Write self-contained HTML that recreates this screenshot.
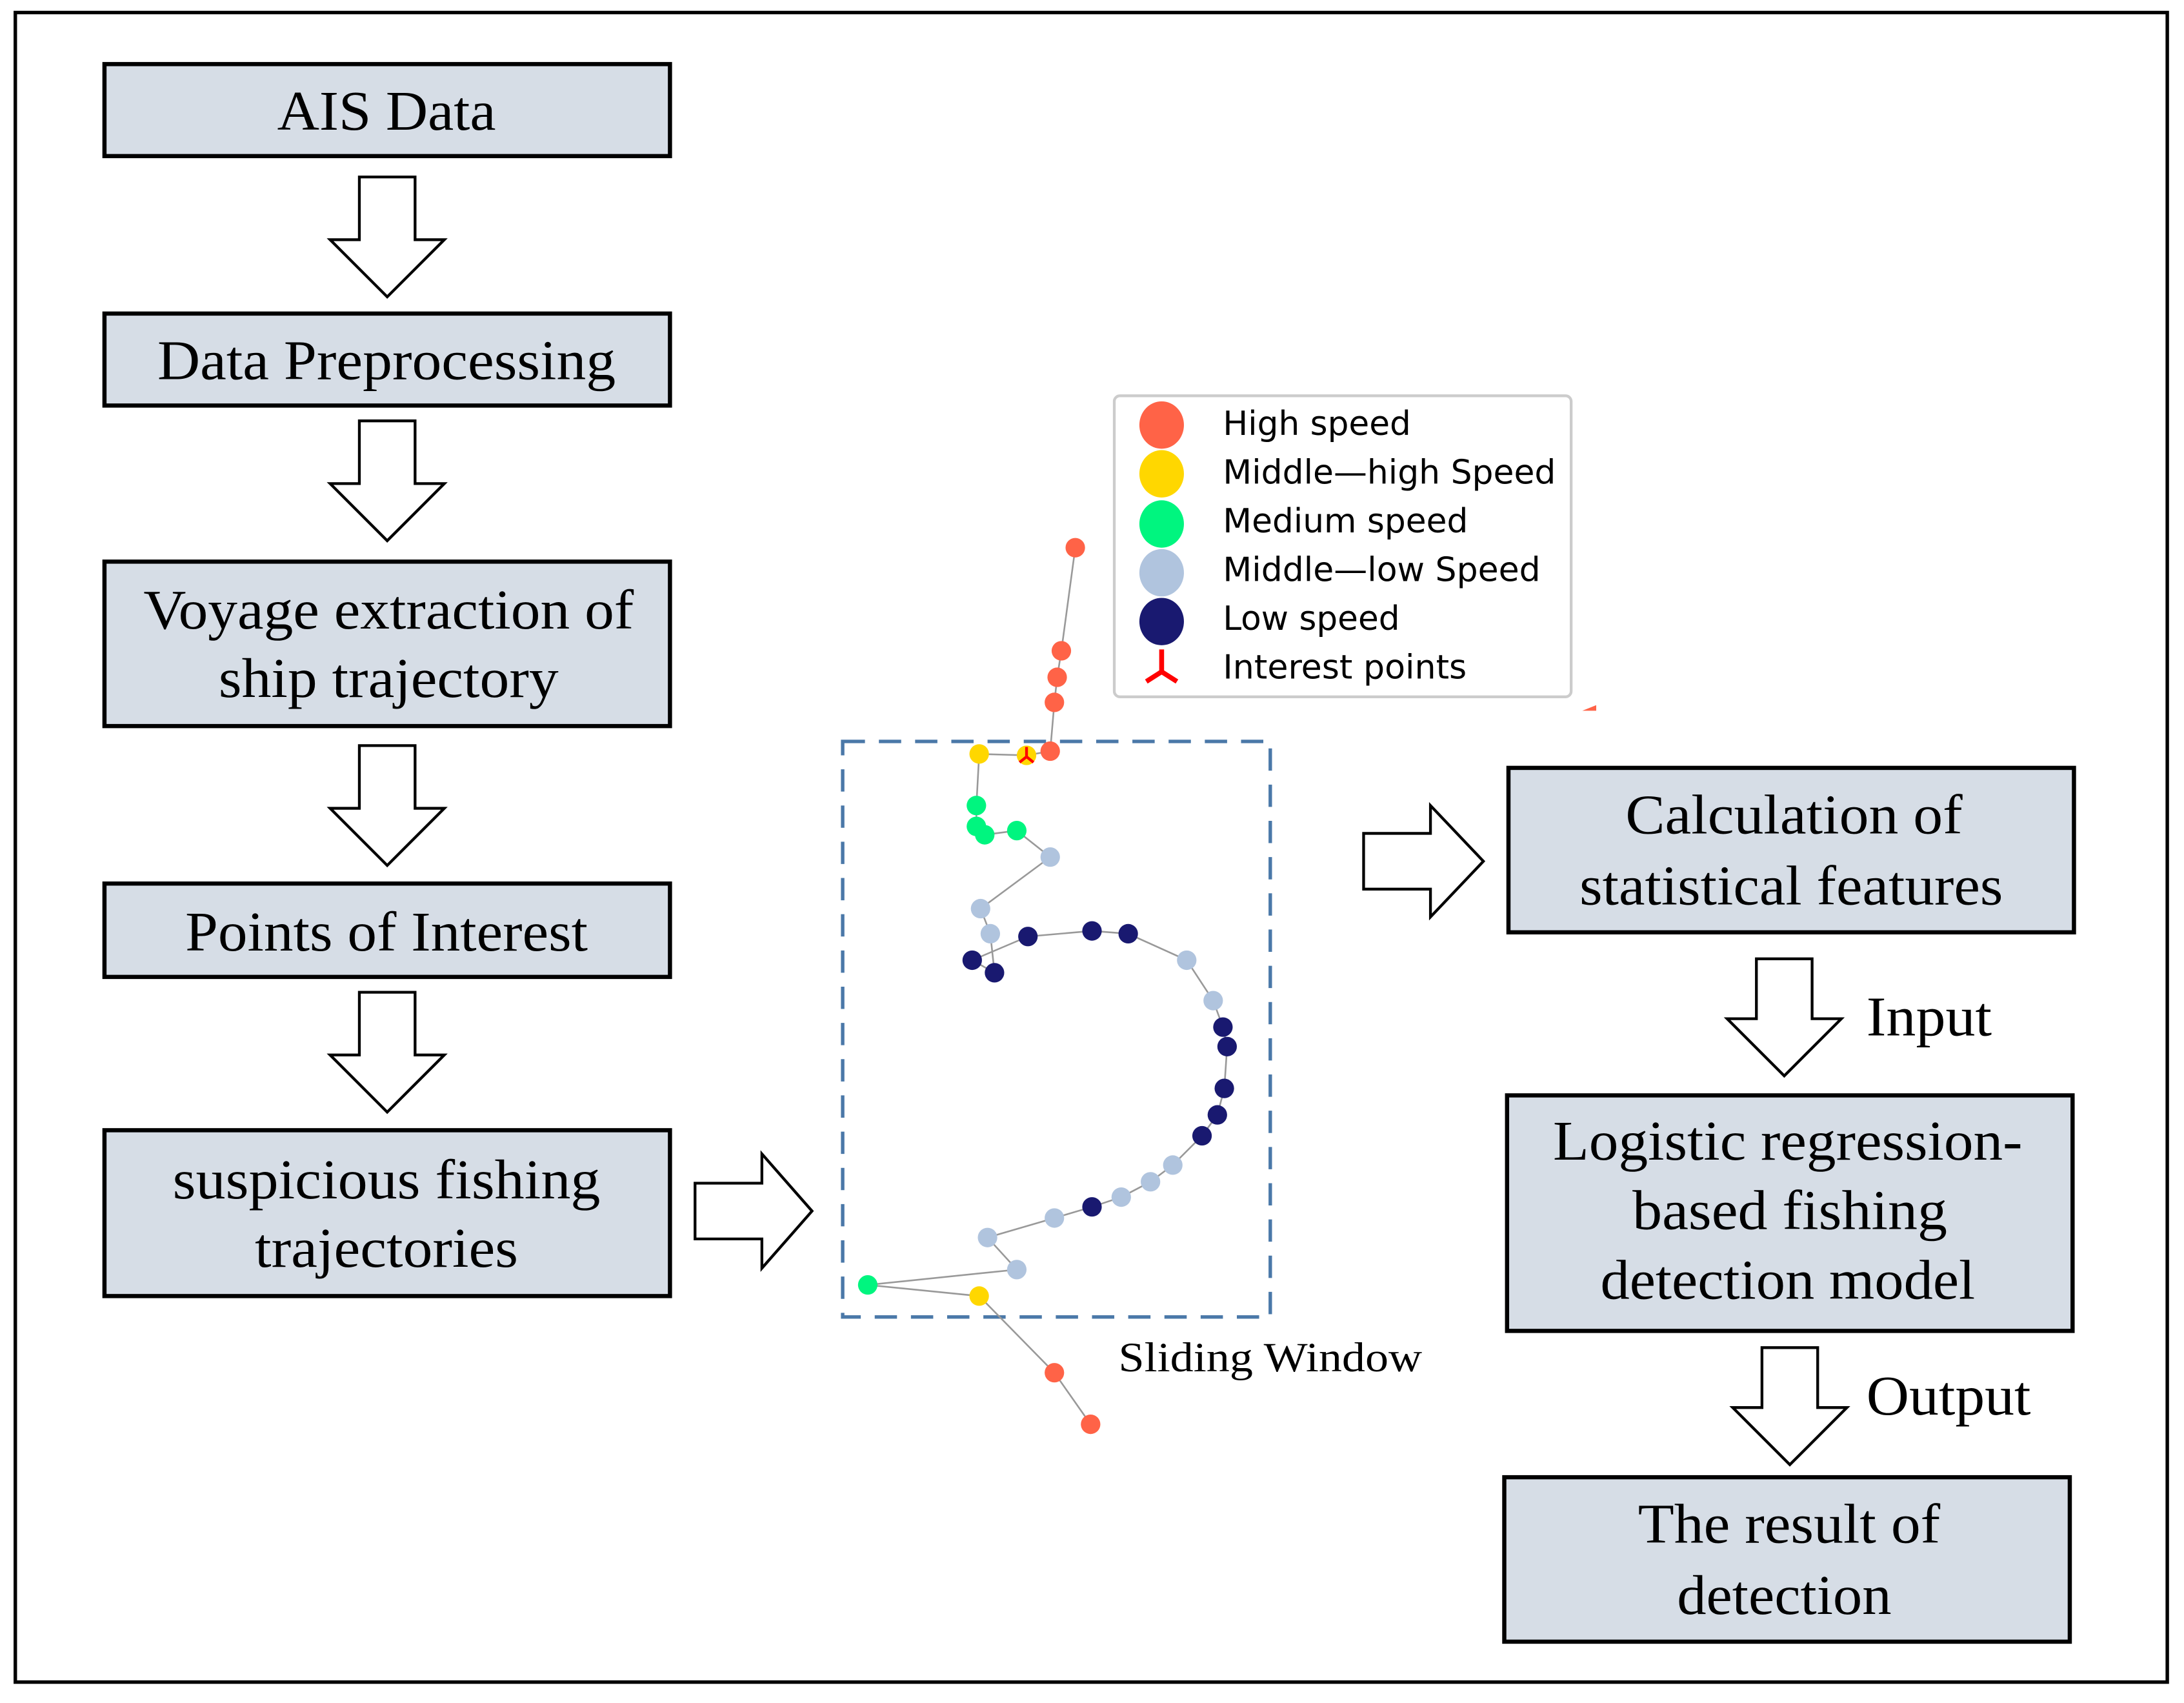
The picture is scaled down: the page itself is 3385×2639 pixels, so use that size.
<!DOCTYPE html>
<html><head><meta charset="utf-8"><style>
html,body{margin:0;padding:0;background:#fff}
svg{display:block}
.bx{fill:#d6dde6;stroke:#000;stroke-width:3}
.t{font-family:"Liberation Serif",serif;font-size:40px;fill:#000}
.ar{fill:#fff;stroke:#000;stroke-width:2}
.lg{font-family:"DejaVu Sans Condensed","DejaVu Sans",sans-serif;font-size:24px;fill:#000}
</style></head><body>
<svg width="3385" height="2639" viewBox="0 0 1568 1222" preserveAspectRatio="none" xmlns="http://www.w3.org/2000/svg">
<rect x="0" y="0" width="1568" height="1222" fill="#fff"/>
<rect x="11" y="9" width="1545" height="1198" fill="none" stroke="#000" stroke-width="2.5"/>

<rect class="bx" x="75" y="46" width="406" height="66"/>
<text class="t" x="199" y="93" textLength="157" lengthAdjust="spacingAndGlyphs">AIS Data</text>
<rect class="bx" x="75" y="225" width="406" height="66"/>
<text class="t" x="113" y="272" textLength="329" lengthAdjust="spacingAndGlyphs">Data Preprocessing</text>
<rect class="bx" x="75" y="403" width="406" height="118"/>
<text class="t" x="103" y="451" textLength="352" lengthAdjust="spacingAndGlyphs">Voyage extraction of</text>
<text class="t" x="157" y="500" textLength="244" lengthAdjust="spacingAndGlyphs">ship trajectory</text>
<rect class="bx" x="75" y="634" width="406" height="67"/>
<text class="t" x="133" y="682" textLength="289" lengthAdjust="spacingAndGlyphs">Points of Interest</text>
<rect class="bx" x="75" y="811" width="406" height="119"/>
<text class="t" x="124" y="860" textLength="307" lengthAdjust="spacingAndGlyphs">suspicious fishing</text>
<text class="t" x="183" y="909" textLength="189" lengthAdjust="spacingAndGlyphs">trajectories</text>

<rect class="bx" x="1083" y="551" width="406" height="118"/>
<text class="t" x="1167" y="598" textLength="242" lengthAdjust="spacingAndGlyphs">Calculation of</text>
<text class="t" x="1134" y="649" textLength="304" lengthAdjust="spacingAndGlyphs">statistical features</text>
<rect class="bx" x="1082" y="786" width="406" height="169"/>
<text class="t" x="1115" y="832" textLength="337" lengthAdjust="spacingAndGlyphs">Logistic regression-</text>
<text class="t" x="1172" y="882" textLength="226" lengthAdjust="spacingAndGlyphs">based fishing</text>
<text class="t" x="1149" y="932" textLength="269" lengthAdjust="spacingAndGlyphs">detection model</text>
<rect class="bx" x="1080" y="1060" width="406" height="118"/>
<text class="t" x="1176" y="1107" textLength="217" lengthAdjust="spacingAndGlyphs">The result of</text>
<text class="t" x="1204" y="1158" textLength="154" lengthAdjust="spacingAndGlyphs">detection</text>

<text class="t" x="1340" y="743" textLength="90" lengthAdjust="spacingAndGlyphs">Input</text>
<text class="t" x="1340" y="1015" textLength="118" lengthAdjust="spacingAndGlyphs">Output</text>

<!-- down arrows -->
<polygon class="ar" points="258,127 298,127 298,172 319,172 278,213 237,172 258,172"/>
<polygon class="ar" points="258,302 298,302 298,347 319,347 278,388 237,347 258,347"/>
<polygon class="ar" points="258,535 298,535 298,580 319,580 278,621 237,580 258,580"/>
<polygon class="ar" points="258,712 298,712 298,757 319,757 278,798 237,757 258,757"/>
<polygon class="ar" points="1261,688 1301,688 1301,731 1322,731 1281,772 1240,731 1261,731"/>
<polygon class="ar" points="1265,967 1305,967 1305,1010 1326,1010 1285,1051 1244,1010 1265,1010"/>
<!-- right arrows -->
<polygon class="ar" points="499,849 547,849 547,828 583,869 547,910 547,889 499,889"/>
<polygon class="ar" points="979,598 1027,598 1027,578 1065,618 1027,658 1027,638 979,638"/>

<!-- sliding window -->
<rect x="605" y="532" width="307" height="413" fill="none" stroke="#4a78a8" stroke-width="2.5" stroke-dasharray="16,10"/>
<text x="803" y="984" font-family="Liberation Serif,serif" font-size="30" textLength="218" lengthAdjust="spacingAndGlyphs">Sliding Window</text>

<!-- trajectory -->
<polyline fill="none" stroke="#999" stroke-width="1.2" points="772,393 762,467 759,486 757,504 754,539 737,542 703,541 701,578 701,593 707,599 730,596 754,615 704,652 711,670 714,698 698,689 738,672 784,668 810,670 852,689 871,718 878,737 881,751 879,781 874,800 863,815 842,836 826,848 805,859 784,866 757,874 709,888 730,911 623,922 703,930 757,985 783,1022"/>
<g fill="#ff6347">
<circle cx="772" cy="393" r="7"/><circle cx="762" cy="467" r="7"/><circle cx="759" cy="486" r="7"/><circle cx="757" cy="504" r="7"/><circle cx="754" cy="539" r="7"/><circle cx="757" cy="985" r="7"/><circle cx="783" cy="1022" r="7"/>
</g>
<g fill="#ffd700"><circle cx="703" cy="541" r="7"/><circle cx="737" cy="542" r="7"/><circle cx="703" cy="930" r="7"/></g>
<g fill="#00f57f"><circle cx="701" cy="578" r="7"/><circle cx="701" cy="593" r="7"/><circle cx="707" cy="599" r="7"/><circle cx="730" cy="596" r="7"/><circle cx="623" cy="922" r="7"/></g>
<g fill="#b0c4de"><circle cx="754" cy="615" r="7"/><circle cx="704" cy="652" r="7"/><circle cx="711" cy="670" r="7"/><circle cx="852" cy="689" r="7"/><circle cx="871" cy="718" r="7"/><circle cx="842" cy="836" r="7"/><circle cx="826" cy="848" r="7"/><circle cx="805" cy="859" r="7"/><circle cx="757" cy="874" r="7"/><circle cx="709" cy="888" r="7"/><circle cx="730" cy="911" r="7"/></g>
<g fill="#191970"><circle cx="714" cy="698" r="7"/><circle cx="698" cy="689" r="7"/><circle cx="738" cy="672" r="7"/><circle cx="784" cy="668" r="7"/><circle cx="810" cy="670" r="7"/><circle cx="878" cy="737" r="7"/><circle cx="881" cy="751" r="7"/><circle cx="879" cy="781" r="7"/><circle cx="874" cy="800" r="7"/><circle cx="863" cy="815" r="7"/><circle cx="784" cy="866" r="7"/></g>
<path d="M737,536 V543 M737,543 L732,547 M737,543 L742,547" stroke="#f00" stroke-width="2" fill="none"/>
<path d="M1136,510 L1146,506 L1146,510 Z" fill="#ff6347"/>

<!-- legend -->
<rect x="800" y="284" width="328" height="216" rx="4" fill="#fff" stroke="#ccc" stroke-width="2"/>
<ellipse cx="834" cy="305" rx="16" ry="17" fill="#ff6347"/>
<ellipse cx="834" cy="340" rx="16" ry="17" fill="#ffd700"/>
<ellipse cx="834" cy="376" rx="16" ry="17" fill="#00f57f"/>
<ellipse cx="834" cy="411" rx="16" ry="17" fill="#b0c4de"/>
<ellipse cx="834" cy="446" rx="16" ry="17" fill="#191970"/>
<path d="M834,466 V482 M834,482 L823,489 M834,482 L845,489" stroke="#f00" stroke-width="3.5" fill="none"/>
<text class="lg" x="878" y="312" textLength="135" lengthAdjust="spacingAndGlyphs">High speed</text>
<text class="lg" x="878" y="347" textLength="239" lengthAdjust="spacingAndGlyphs">Middle—high Speed</text>
<text class="lg" x="878" y="382" textLength="176" lengthAdjust="spacingAndGlyphs">Medium speed</text>
<text class="lg" x="878" y="417" textLength="228" lengthAdjust="spacingAndGlyphs">Middle—low Speed</text>
<text class="lg" x="878" y="452" textLength="127" lengthAdjust="spacingAndGlyphs">Low speed</text>
<text class="lg" x="878" y="487" textLength="175" lengthAdjust="spacingAndGlyphs">Interest points</text>
</svg>
</body></html>
